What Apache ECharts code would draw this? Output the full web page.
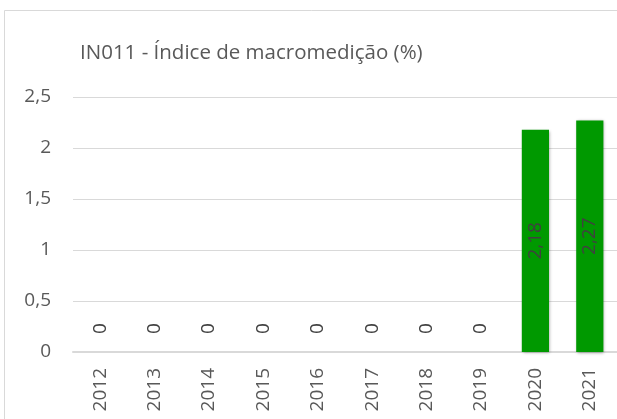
<!DOCTYPE html>
<html>
<head>
<meta charset="utf-8">
<script src="https://cdn.jsdelivr.net/npm/echarts@6/dist/echarts.min.js"></script>
<style>
html,body{margin:0;padding:0;background:#fff;}
#chart{width:617px;height:419px;}
</style>
</head>
<body>
<div id="chart"></div>
<script>
const titleText = 'IN011 - Índice de macromedição (%)';
const categories = ['2012','2013','2014','2015','2016','2017','2018','2019','2020','2021'];
const values = [0,0,0,0,0,0,0,0,2.18,2.27];
const yTicks = [0,0.5,1,1.5,2,2.5];

const fmt = v => String(v).replace('.', ',');
const FONT = '"Open Sans", "Noto Sans", sans-serif';
const chart = echarts.init(document.getElementById('chart'), null, {renderer:'canvas'});

const data = values.map(v => {
  if (v === 0) {
    return {value: v, label: {position: 'top', distance: 18, rotate: 90, align: 'left', verticalAlign: 'middle'}};
  }
  return {value: v, label: {position: 'inside', rotate: 90, align: 'center', verticalAlign: 'middle'}};
});

chart.setOption({
  animation: false,
  backgroundColor: '#ffffff',
  title: {
    text: titleText,
    left: 75, top: 38,
    textStyle: {fontFamily: FONT, fontSize: 20.5, fontWeight: 'normal', color: '#595959'}
  },
  graphic: [{
    type: 'rect', shape: {x: 4.5, y: 10.5, width: 700, height: 500},
    style: {fill: 'none', stroke: '#d9d9d9', lineWidth: 1}, silent: true, z: -1
  }],
  grid: {left: 73, top: 97, width: 545, height: 255},
  xAxis: {
    type: 'category', data: categories,
    axisLine: {show: true, lineStyle: {color: '#d9d9d9', width: 2}},
    axisTick: {show: false},
    axisLabel: {rotate: 90, margin: 16, color: '#595959', fontFamily: FONT, fontSize: 19}
  },
  yAxis: {
    type: 'value', min: yTicks[0], max: yTicks[yTicks.length-1], interval: 0.5,
    axisLine: {show: false}, axisTick: {show: false},
    splitLine: {lineStyle: {color: '#d9d9d9', width: 1}},
    axisLabel: {margin: 22, color: '#595959', fontFamily: FONT, fontSize: 19, formatter: v => fmt(v)}
  },
  series: [{
    type: 'bar', data: data, barWidth: '50%',
    itemStyle: {color: '#009900', shadowBlur: 3, shadowColor: 'rgba(0,0,0,0.35)', shadowOffsetX: 1, shadowOffsetY: 1},
    label: {show: true, color: '#404040', fontFamily: FONT, fontSize: 19, formatter: p => fmt(p.value)}
  }]
});
</script>
</body>
</html>
